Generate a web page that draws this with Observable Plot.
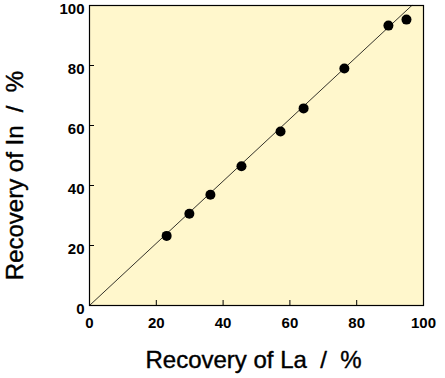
<!DOCTYPE html>
<html><head><meta charset="utf-8">
<script src="https://cdn.jsdelivr.net/npm/d3@7"></script>
<script src="https://cdn.jsdelivr.net/npm/@observablehq/plot@0.6"></script>
<style>body{margin:0;background:#fff}</style>
</head><body><div id="chart"></div>
<script>
const recoveryLa = [23.1, 29.9, 36.2, 45.5, 57.2, 64.1, 76.3, 89.5, 94.9];
const recoveryIn = [23.2, 30.6, 36.9, 46.4, 58.0, 65.7, 79.0, 93.3, 95.3];
const fitX = [0, 96.5];
const fitY = [0, 100];
const tickValues = [0, 20, 40, 60, 80, 100];
const innerTicks = [20, 40, 60, 80];
const xTitle = "Recovery of La  /  %";
const yTitle = "Recovery of In  /  %";

const pts = recoveryLa.map((x, i) => ({x, y: recoveryIn[i]}));
const fit = fitX.map((x, i) => ({x, y: fitY[i]}));

const font = "Liberation Sans, Arial, Helvetica, sans-serif";
const chart = Plot.plot({
  width: 445, height: 378,
  marginLeft: 89, marginRight: 22, marginTop: 5, marginBottom: 73,
  style: {fontFamily: font, background: "#fff"},
  x: {domain: [0, 100], label: null},
  y: {domain: [0, 100], label: null},
  marks: [
    Plot.frame({fill: "#fff7cc", stroke: null}),
    Plot.line(fit, {x: "x", y: "y", stroke: "#000", strokeWidth: 0.8}),
    Plot.dot(pts, {x: "x", y: "y", r: 5, fill: "#000", stroke: null}),
    Plot.axisX(innerTicks, {tickSize: -5, text: null, label: null, stroke: "#000", strokeWidth: 1}),
    Plot.axisY(innerTicks, {tickSize: -5, text: null, label: null, stroke: "#000", strokeWidth: 1}),
    Plot.axisX(tickValues, {tickSize: 0, tickPadding: 12, fontSize: 15, fontWeight: "bold", fill: "#000", stroke: "#000", strokeWidth: 0.3, label: null}),
    Plot.axisY(tickValues, {tickSize: 0, tickPadding: 5, dy: 4, fontSize: 15, fontWeight: "bold", fill: "#000", stroke: "#000", strokeWidth: 0.3, label: null}),
    Plot.frame({stroke: "#000", strokeWidth: 1.2}),
    Plot.text([xTitle], {frameAnchor: "bottom", lineAnchor: "middle", dy: 55, dx: -3, fontSize: 24, fill: "#000", stroke: "#000", strokeWidth: 0.4, text: d => d}),
    Plot.text([yTitle], {frameAnchor: "left", textAnchor: "middle", lineAnchor: "middle", dx: -74, dy: 20, rotate: -90, fontSize: 24, fill: "#000", stroke: "#000", strokeWidth: 0.4, text: d => d})
  ]
});
document.getElementById("chart").appendChild(chart);
</script></body></html>
